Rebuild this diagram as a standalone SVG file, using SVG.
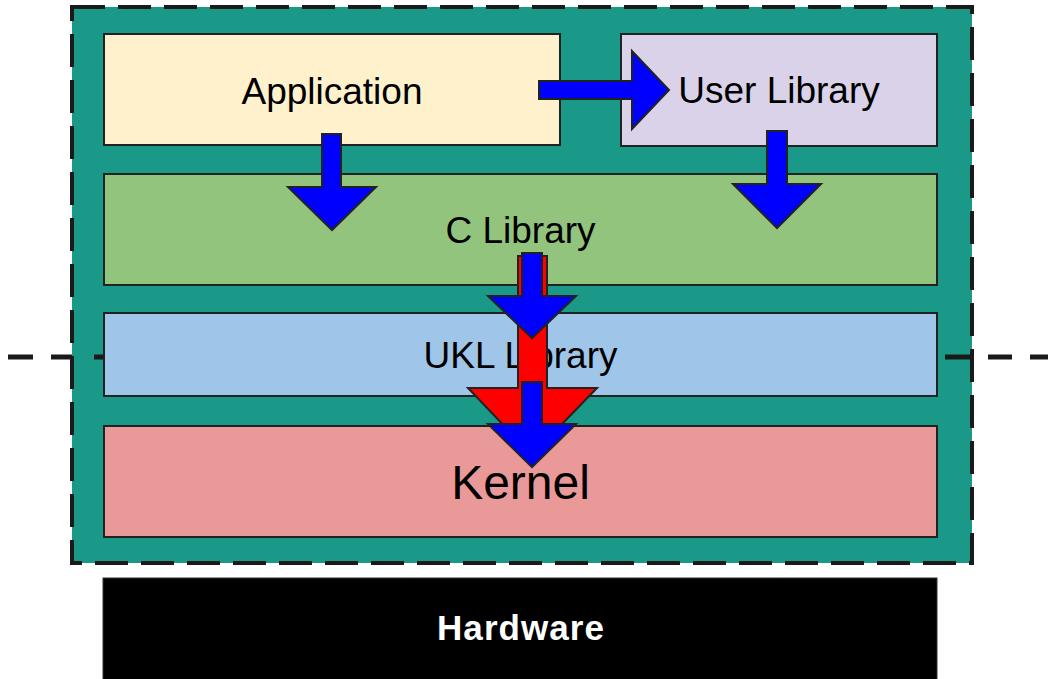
<svg xmlns="http://www.w3.org/2000/svg" width="1048" height="679" viewBox="0 0 1048 679">
  <style>
    .layer { stroke: #222; stroke-width: 2; }
    .label { font-family: "Liberation Sans", Arial, sans-serif; font-size: 37px; fill: #000; text-anchor: middle; }
    .blue { fill: #0000ff; stroke: #222; stroke-width: 2; stroke-linejoin: miter; }
    .red { fill: #ff0000; stroke: #222; stroke-width: 2; stroke-linejoin: miter; }
  </style>

  <rect width="1048" height="679" fill="#ffffff"/>

  <!-- software stack container -->
  <g id="stack">
    <rect x="72" y="7" width="900" height="556" fill="#1a9988" stroke="#1a1a1a" stroke-width="4" stroke-dasharray="33 13"/>
  </g>

  <!-- user/kernel boundary -->
  <path d="M8 357H33M51 357H72M94 357H104M945 357H970M988 357H1012M1030 357H1048" stroke="#1a1a1a" stroke-width="5" fill="none"/>

  <g id="application">
    <rect class="layer" x="104" y="34" width="456" height="111" fill="#fff1cc"/>
    <text class="label" x="332" y="104">Application</text>
  </g>

  <g id="user-library">
    <rect class="layer" x="621" y="34" width="316" height="112" fill="#d9d2e9"/>
    <text class="label" x="779" y="103">User Library</text>
  </g>

  <g id="c-library">
    <rect class="layer" x="104" y="174" width="833" height="111" fill="#93c47d"/>
    <text class="label" x="520.5" y="243">C Library</text>
  </g>

  <g id="ukl-library">
    <rect class="layer" x="104" y="313" width="833" height="83" fill="#9fc5e8"/>
    <text class="label" x="520.5" y="368">UKL Library</text>
  </g>

  <g id="kernel">
    <rect class="layer" x="104" y="426" width="833" height="111" fill="#ea9999"/>
    <text class="label" x="520.5" y="499" style="font-size:48px">Kernel</text>
  </g>

  <g id="hardware">
    <rect x="103" y="578" width="834" height="110" fill="#000000" stroke="#333" stroke-width="1"/>
    <text x="520.5" y="640" font-family="Liberation Sans, Arial, sans-serif" font-size="35" font-weight="bold" fill="#ffffff" text-anchor="middle" textLength="167">Hardware</text>
  </g>

  <!-- block arrows between layers -->
  <g id="connectors">
    <!-- Application to User Library -->
    <polygon class="blue" points="539,81 632,81 632,51 669,90 632,129 632,99 539,99"/>
    <!-- Application to C Library -->
    <polygon class="blue" points="322,134 341,134 341,187 376,187 332,230 288,187 322,187"/>
    <!-- User Library to C Library -->
    <polygon class="blue" points="767,131 787,131 787,184 821,184 777,228 733,184 767,184"/>
    <!-- C Library straight to Kernel -->
    <polygon class="red" points="518,256 547,256 547,388 597,388 532,455 468,388 518,388"/>
    <!-- C Library to UKL Library -->
    <polygon class="blue" points="522,253 542,253 542,296 576,296 532,338 488,296 522,296"/>
    <!-- UKL Library to Kernel -->
    <polygon class="blue" points="522,382 542,382 542,424 576,424 532,467 488,424 522,424"/>
  </g>
</svg>
